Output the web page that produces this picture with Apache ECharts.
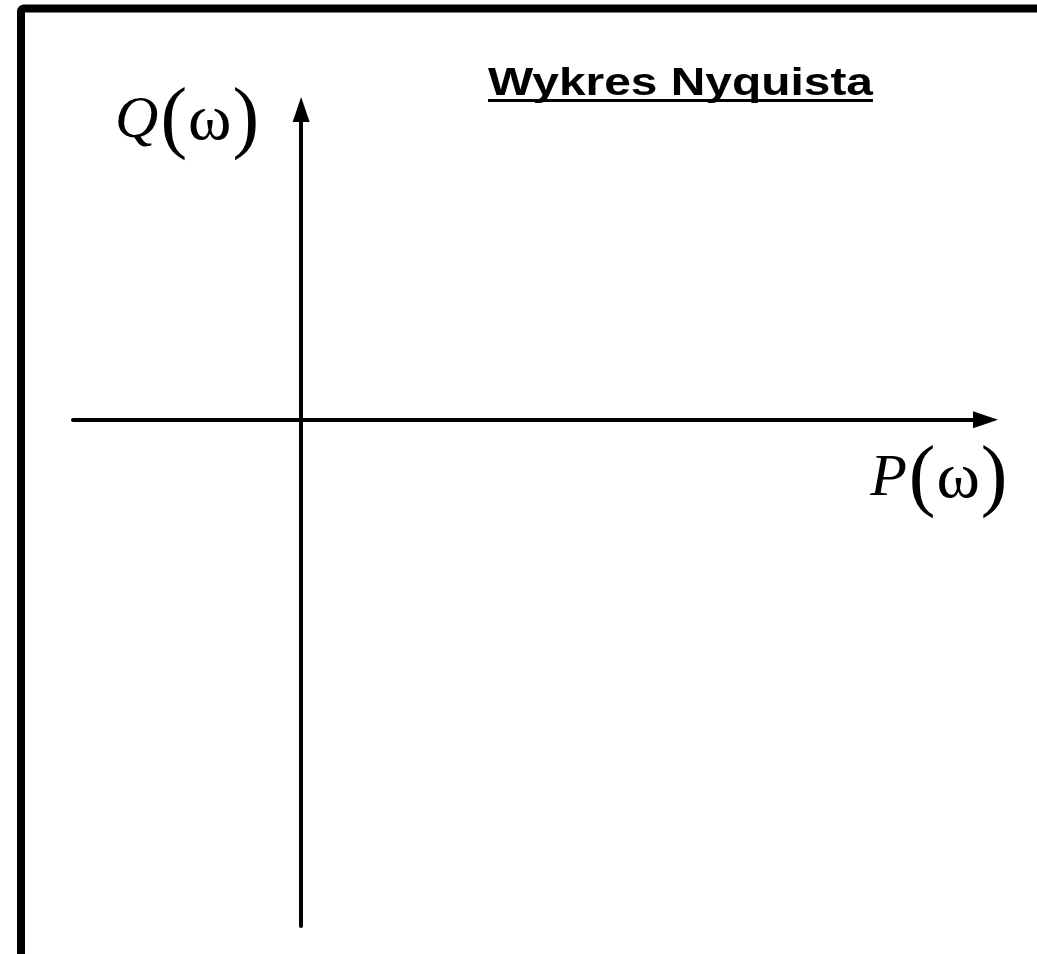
<!DOCTYPE html>
<html>
<head>
<meta charset="utf-8">
<script src="https://cdn.jsdelivr.net/npm/echarts@6/dist/echarts.min.js"></script>
<style>
  html, body { margin: 0; padding: 0; background: #fff; }
  #main { width: 1037px; height: 954px; }
</style>
</head>
<body>
<div id="main"></div>
<script>
// axis ranges (P = real part, Q = imaginary part)
const pRange = [-1, 3];
const qRange = [-1.6, 0.98];
const titleText = 'Wykres Nyquista';
const pName = ['P', '(', 'ω', ')'];
const qName = ['Q', '(', 'ω', ')'];

const chart = echarts.init(document.getElementById('main'));

// rich text for the math-style axis names
const mathRich = {
  v: { fontFamily: 'Liberation Serif', fontStyle: 'italic', fontSize: 60, color: '#000', padding: [0, 2, 0, 0] },
  b: { fontFamily: 'Liberation Serif', fontSize: 80, color: '#000' },
  w: { fontFamily: 'Liberation Serif', fontSize: 66, color: '#000', padding: [0, 1, 0, 1] }
};
function mathLabel(parts) {
  return '{v|' + parts[0] + '}{b|' + parts[1] + '}{w|' + parts[2] + '}{b|' + parts[3] + '}';
}

const axisLine = {
  show: true,
  onZero: true,
  symbol: ['none', 'triangle'],
  symbolSize: [17, 25],
  lineStyle: { color: '#000', width: 4 }
};

chart.setOption({
  backgroundColor: '#fff',
  animation: false,
  grid: { left: 73, right: 51.5, top: 109.5, bottom: 28 },
  xAxis: {
    type: 'value',
    min: pRange[0],
    max: pRange[1],
    name: mathLabel(pName),
    nameLocation: 'end',
    nameGap: 22,
    nameTextStyle: { align: 'right', verticalAlign: 'top', padding: [20, 0, 0, 0], rich: mathRich },
    axisLine: axisLine,
    axisTick: { show: false },
    axisLabel: { show: false },
    splitLine: { show: false }
  },
  yAxis: {
    type: 'value',
    min: qRange[0],
    max: qRange[1],
    name: mathLabel(qName),
    nameLocation: 'end',
    nameGap: -12,
    nameTextStyle: { align: 'right', verticalAlign: 'middle', padding: [0, 42, 0, 0], rich: mathRich },
    axisLine: axisLine,
    axisTick: { show: false },
    axisLabel: { show: false },
    splitLine: { show: false }
  },
  series: [{ type: 'line', data: [], silent: true }],
  graphic: [
    {
      // frame (only left and top edges visible)
      type: 'rect',
      shape: { x: 21, y: 8.5, width: 1200, height: 1100, r: 3 },
      style: { fill: 'none', stroke: '#000', lineWidth: 8 },
      silent: true
    },
    {
      type: 'text',
      x: 488,
      y: 66,
      scaleX: 1.26,
      style: {
        text: titleText,
        font: 'bold 38px "Liberation Sans", Arial, sans-serif',
        fill: '#000',
        align: 'left',
        verticalAlign: 'top'
      },
      silent: true
    },
    {
      type: 'rect',
      shape: { x: 488, y: 99, width: 385, height: 3 },
      style: { fill: '#000' },
      silent: true
    }
  ]
});
</script>
</body>
</html>
